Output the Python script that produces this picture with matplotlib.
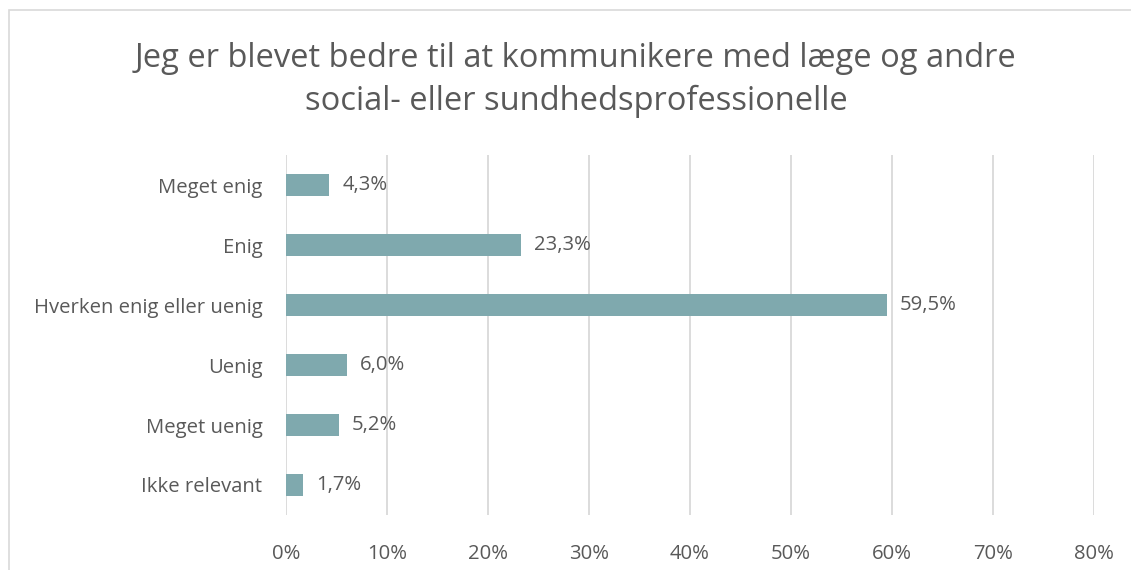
import matplotlib.pyplot as plt
from matplotlib.patches import Rectangle

categories = ["Meget enig", "Enig", "Hverken enig eller uenig", "Uenig",
              "Meget uenig", "Ikke relevant"]
values = [4.3, 23.3, 59.5, 6.0, 5.2, 1.7]
xticks = [0, 10, 20, 30, 40, 50, 60, 70, 80]

title = ("Jeg er blevet bedre til at kommunikere med læge og andre\n"
         "social- eller sundhedsprofessionelle")

plt.rcParams['font.family'] = ['Open Sans', 'DejaVu Sans']
grey = '#595959'
bar_color = '#7FA9AE'
fs = 14.6

fig = plt.figure(figsize=(11.31, 5.70), dpi=100)
ax = fig.add_axes([286 / 1131, 1 - 515 / 570, 808 / 1131, 360 / 570])

y = list(range(len(categories)))
ax.barh(y, values, height=0.37, color=bar_color, zorder=3)
ax.set_ylim(len(categories) - 0.5, -0.5)
ax.set_yticks(y)
ax.set_yticklabels(categories, fontsize=fs, color=grey)

for yi, v in zip(y, values):
    ax.text(v + 1.3, yi, f"{v:.1f}%".replace('.', ','), va='center',
            ha='left', fontsize=fs, color=grey)

ax.set_xlim(0, 80)
ax.set_xticks(xticks)
ax.set_xticklabels([f"{t}%" for t in xticks], fontsize=fs, color=grey)
ax.grid(axis='x', color='#D9D9D9', linewidth=1.3, zorder=0)
ax.tick_params(length=0)
ax.tick_params(axis='y', pad=17)
ax.tick_params(axis='x', pad=21)
for s in ax.spines.values():
    s.set_visible(False)

fig.text(576 / 1131, 1 - 80 / 570, title, ha='center', va='center',
         fontsize=23.5, color=grey, linespacing=1.38)

fig.patches.append(Rectangle((9 / 1131, -0.1), 1.2, 1 - 10 / 570 + 0.1,
                             transform=fig.transFigure, fill=False,
                             edgecolor='#D9D9D9', linewidth=1.2))

fig.savefig('out.png', dpi=100)
